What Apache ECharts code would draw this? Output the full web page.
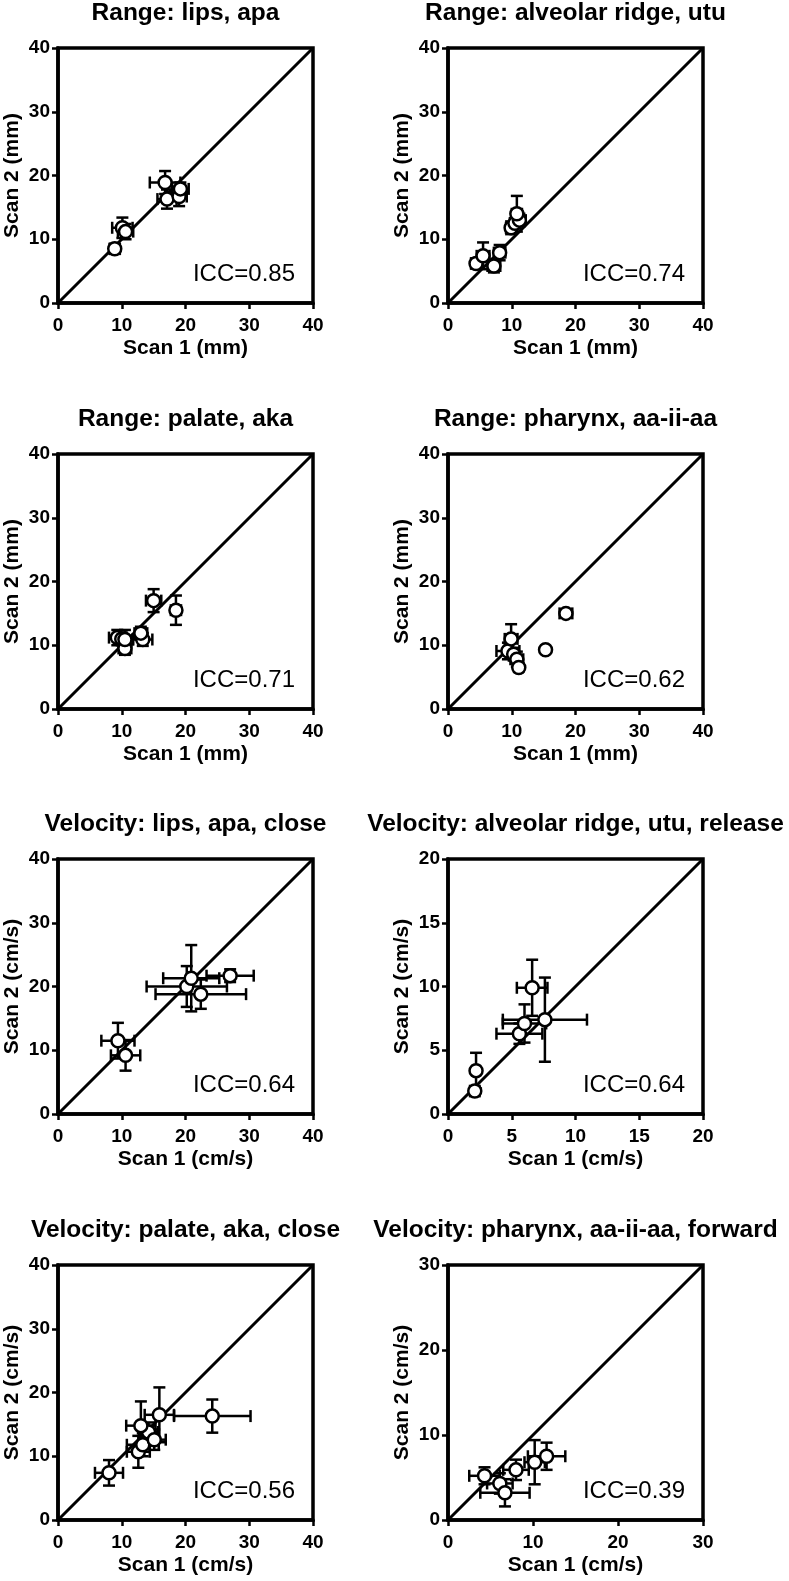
<!DOCTYPE html>
<html><head><meta charset="utf-8">
<script src="https://cdn.jsdelivr.net/npm/echarts@6/dist/echarts.min.js"></script>
<style>html,body{margin:0;padding:0;background:#fff}#chart{width:789px;height:1581px}</style>
</head><body><div id="chart"></div>
<script>
// ---------- data ----------
const panelTitles = [
  'Range: lips, apa',
  'Range: alveolar ridge, utu',
  'Range: palate, aka',
  'Range: pharynx, aa-ii-aa',
  'Velocity: lips, apa, close',
  'Velocity: alveolar ridge, utu, release',
  'Velocity: palate, aka, close',
  'Velocity: pharynx, aa-ii-aa, forward'
];
const xAxisNames = ['Scan 1 (mm)','Scan 1 (mm)','Scan 1 (mm)','Scan 1 (mm)','Scan 1 (cm/s)','Scan 1 (cm/s)','Scan 1 (cm/s)','Scan 1 (cm/s)'];
const yAxisNames = ['Scan 2 (mm)','Scan 2 (mm)','Scan 2 (mm)','Scan 2 (mm)','Scan 2 (cm/s)','Scan 2 (cm/s)','Scan 2 (cm/s)','Scan 2 (cm/s)'];
const iccLabels = ['ICC=0.85','ICC=0.74','ICC=0.71','ICC=0.62','ICC=0.64','ICC=0.64','ICC=0.56','ICC=0.39'];
const axisMax = [40, 40, 40, 40, 40, 20, 40, 30];
const axisInterval = [10, 10, 10, 10, 10, 5, 10, 10];

// each row: [scan 1 mean, scan 2 mean, scan 1 error, scan 2 error]
const rangeLipsApa = [
  [8.9, 8.5, 0.8, 0.8],
  [10.1, 11.8, 1.6, 1.6],
  [10.6, 11.2, 1.2, 1.2],
  [16.8, 18.9, 2.4, 1.8],
  [17.1, 16.3, 1.5, 1.5],
  [19.0, 16.7, 1.2, 1.5],
  [19.2, 17.9, 1.3, 1.0]
];
const rangeAlveolarUtu = [
  [4.4, 6.2, 0.8, 0.8],
  [5.5, 7.4, 1.0, 2.1],
  [7.2, 5.8, 1.0, 1.0],
  [8.1, 7.9, 0.9, 1.2],
  [9.9, 11.8, 0.8, 1.0],
  [10.5, 12.5, 0.8, 0.8],
  [11.2, 13.0, 1.0, 1.0],
  [10.8, 14.0, 0.8, 2.8]
];
const rangePalateAka = [
  [9.3, 11.2, 1.3, 1.2],
  [10.0, 11.0, 1.0, 1.0],
  [10.5, 9.5, 1.0, 1.0],
  [10.5, 10.9, 1.2, 1.5],
  [13.3, 10.9, 1.5, 1.0],
  [13.0, 11.9, 1.0, 1.0],
  [15.0, 17.0, 1.2, 1.8],
  [18.5, 15.5, 0.8, 2.3]
];
const rangePharynxAa = [
  [9.4, 9.1, 1.8, 1.3],
  [9.9, 11.0, 1.0, 2.3],
  [10.3, 8.6, 0.8, 1.0],
  [10.8, 7.8, 1.0, 1.2],
  [11.1, 6.5, 0.6, 0.6],
  [15.3, 9.3, 0.4, 0.4],
  [18.5, 15.0, 1.0, 0.6]
];
const velLipsApa = [
  [9.4, 11.5, 2.6, 2.8],
  [10.6, 9.2, 2.3, 2.4],
  [20.2, 20.0, 6.3, 3.2],
  [20.9, 21.3, 4.4, 5.2],
  [22.4, 18.8, 7.1, 2.3],
  [27.0, 21.7, 3.7, 1.0]
];
const velAlveolarUtu = [
  [2.1, 1.8, 0.3, 0.4],
  [2.2, 3.4, 0.3, 1.4],
  [5.6, 6.3, 1.8, 0.8],
  [6.0, 7.1, 1.7, 1.5],
  [6.6, 9.9, 1.2, 2.2],
  [7.6, 7.4, 3.3, 3.3]
];
const velPalateAka = [
  [8.0, 7.4, 2.2, 2.0],
  [12.6, 10.7, 1.8, 2.5],
  [13.3, 11.8, 2.5, 1.8],
  [14.2, 13.8, 1.5, 1.5],
  [13.0, 14.8, 2.3, 3.8],
  [15.1, 12.6, 1.8, 1.6],
  [15.9, 16.5, 2.3, 4.3],
  [24.2, 16.3, 6.0, 2.6]
];
const velPharynxAa = [
  [4.3, 5.2, 1.8, 1.0],
  [6.1, 4.3, 1.5, 1.2],
  [6.7, 3.2, 2.9, 1.6],
  [8.0, 5.9, 1.5, 1.2],
  [10.2, 6.8, 1.2, 2.6],
  [11.6, 7.5, 2.2, 1.6]
];
const panelData = [rangeLipsApa, rangeAlveolarUtu, rangePalateAka, rangePharynxAa,
                   velLipsApa, velAlveolarUtu, velPalateAka, velPharynxAa];

// ---------- layout ----------
const FONT = '"Liberation Sans", Arial, Helvetica, sans-serif';
const colLeft = [58, 448];
const rowTop = [48, 454, 859, 1265];
const plotW = 255, plotH = 255;

function renderErr(params, api) {
  const x = api.value(0), y = api.value(1), ex = api.value(2), ey = api.value(3);
  const c = api.coord([x, y]);
  const l = api.coord([x - ex, y]), r = api.coord([x + ex, y]);
  const t = api.coord([x, y + ey]), b = api.coord([x, y - ey]);
  const cap = 6;
  const style = {stroke: '#000', lineWidth: 2.5, fill: null};
  const segs = [
    [l[0], c[1], r[0], c[1]],
    [l[0], c[1] - cap, l[0], c[1] + cap],
    [r[0], c[1] - cap, r[0], c[1] + cap],
    [c[0], t[1], c[0], b[1]],
    [c[0] - cap, t[1], c[0] + cap, t[1]],
    [c[0] - cap, b[1], c[0] + cap, b[1]]
  ];
  return {type: 'group', children: segs.map(p => ({
    type: 'line', shape: {x1: p[0], y1: p[1], x2: p[2], y2: p[3]}, style: style
  }))};
}

const grids = [], xAxes = [], yAxes = [], series = [], titles = [];
for (let i = 0; i < 8; i++) {
  const col = i % 2, row = Math.floor(i / 2);
  const L = colLeft[col], T = rowTop[row];
  grids.push({left: L, top: T, width: plotW, height: plotH, show: true,
    borderColor: '#000', borderWidth: 3.5, backgroundColor: 'transparent'});
  const axisCommon = {
    type: 'value', gridIndex: i, min: 0, max: axisMax[i], interval: axisInterval[i],
    axisLine: {show: true, onZero: false, lineStyle: {color: '#000', width: 3.5}},
    axisTick: {show: true, length: 6, lineStyle: {color: '#000', width: 2.5}},
    splitLine: {show: false},
    nameLocation: 'middle', nameGap: 35,
    nameTextStyle: {color: '#000', fontSize: 21, fontWeight: 'bold', fontFamily: FONT}
  };
  xAxes.push(Object.assign({}, axisCommon, {
    name: xAxisNames[i],
    axisLabel: {color: '#000', fontSize: 19, fontWeight: 'bold', fontFamily: FONT, margin: 13}
  }));
  yAxes.push(Object.assign({}, axisCommon, {
    name: yAxisNames[i],
    axisLabel: {color: '#000', fontSize: 19, fontWeight: 'bold', fontFamily: FONT, margin: 8}
  }));
  series.push({
    type: 'line', xAxisIndex: i, yAxisIndex: i, data: [[0, 0], [axisMax[i], axisMax[i]]],
    symbol: 'none', lineStyle: {color: '#000', width: 3}, z: 1, silent: true
  });
  series.push({
    type: 'custom', xAxisIndex: i, yAxisIndex: i, data: panelData[i],
    encode: {x: 0, y: 1}, renderItem: renderErr, z: 2, silent: true
  });
  series.push({
    type: 'scatter', xAxisIndex: i, yAxisIndex: i,
    data: panelData[i].map(d => [d[0], d[1]]),
    symbol: 'circle', symbolSize: 13,
    itemStyle: {color: '#fff', borderColor: '#000', borderWidth: 2.5, opacity: 1}, z: 3, silent: true
  });
  titles.push({
    text: panelTitles[i], left: L + plotW / 2, top: T - 35, padding: 0,
    textAlign: 'center', textVerticalAlign: 'middle',
    textStyle: {color: '#000', fontSize: 24.5, fontWeight: 'bold', fontFamily: FONT}
  });
  titles.push({
    text: iccLabels[i], left: L + plotW - 18, top: T + plotH - 29, padding: 0,
    textAlign: 'right', textVerticalAlign: 'middle',
    textStyle: {color: '#000', fontSize: 24, fontWeight: 'normal', fontFamily: FONT}
  });
}

const chart = echarts.init(document.getElementById('chart'), null, {renderer: 'canvas'});
chart.setOption({
  animation: false,
  backgroundColor: '#fff',
  title: titles,
  grid: grids,
  xAxis: xAxes,
  yAxis: yAxes,
  series: series
});
</script>
</body></html>
